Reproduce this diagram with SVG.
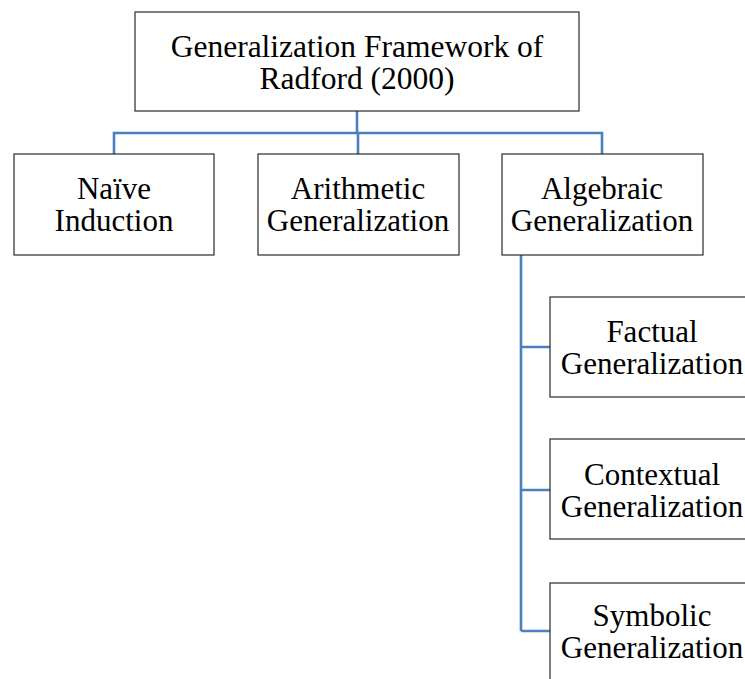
<svg xmlns="http://www.w3.org/2000/svg" width="745" height="679" viewBox="0 0 745 679">
<style>
.box{fill:#ffffff;stroke:#2b2b2b;stroke-width:1.2}
.t{font-family:"Liberation Serif","Times New Roman",serif;font-size:31px;fill:#000;text-anchor:middle}
.big{font-size:31.5px}
.c{fill:none;stroke:#4a80bd;stroke-width:2.6}
</style>
<rect width="745" height="679" fill="#ffffff"/>
<g id="connectors">
<path class="c" d="M357,111 V133 M114,154 V133 H602 V154 M358,133 V154"/>
<path class="c" d="M521,255 V631 M521,347 H550 M521,490 H550 M521,631 H550"/>
</g>
<g id="root">
<rect class="box" x="135" y="12" width="444" height="99"/>
<text class="t big" x="357" y="57">Generalization Framework of</text>
<text class="t big" x="357" y="89">Radford (2000)</text>
</g>
<g id="naive">
<rect class="box" x="14" y="154" width="200" height="101"/>
<text class="t" x="114" y="199">Naïve</text>
<text class="t" x="114" y="231">Induction</text>
</g>
<g id="arithmetic">
<rect class="box" x="258" y="154" width="201" height="101"/>
<text class="t" x="358" y="199">Arithmetic</text>
<text class="t" x="358" y="231">Generalization</text>
</g>
<g id="algebraic">
<rect class="box" x="502" y="154" width="201" height="101"/>
<text class="t" x="602" y="199">Algebraic</text>
<text class="t" x="602" y="231">Generalization</text>
</g>
<g id="factual">
<rect class="box" x="550" y="297" width="200" height="100"/>
<text class="t" x="652" y="342">Factual</text>
<text class="t" x="652" y="374">Generalization</text>
</g>
<g id="contextual">
<rect class="box" x="550" y="439" width="200" height="100"/>
<text class="t" x="652" y="485">Contextual</text>
<text class="t" x="652" y="517">Generalization</text>
</g>
<g id="symbolic">
<rect class="box" x="550" y="583" width="200" height="100"/>
<text class="t" x="652" y="626">Symbolic</text>
<text class="t" x="652" y="658">Generalization</text>
</g>
</svg>
